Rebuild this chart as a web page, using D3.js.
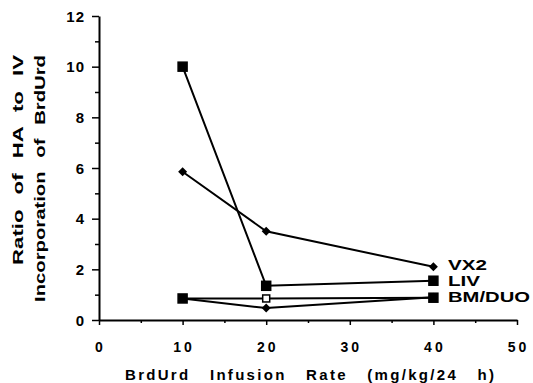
<!doctype html>
<html>
<head>
<style>
  body { margin: 0; background: #fff; }
  text { font-family: "Liberation Sans", Arial, sans-serif; font-weight: bold; fill: #000; }
</style>
<script src="https://d3js.org/d3.v7.min.js"></script>
</head>
<body>
<svg width="533" height="383"></svg>
<script>
// infusion rates (mg/kg/24 h)
var rates = [10, 20, 40];
var vx2 = [5.85, 3.5, 2.1];
var liv = [10.0, 1.35, 1.55];
var bm = [0.85, 0.85, 0.88];
var duo = [0.85, 0.47, 0.9];
var xTicks = [0, 10, 20, 30, 40, 50];
var yTicks = [0, 2, 4, 6, 8, 10, 12];
var names = ["VX2", "LIV", "BM/DUO"];

var svg = d3.select("svg");
var x = d3.scaleLinear().domain([0, 50]).range([99, 517]);
var y = d3.scaleLinear().domain([0, 12]).range([320, 16]);

// axes
var xAxis = svg.append("g").attr("transform", "translate(0,320)")
  .call(d3.axisBottom(x).tickValues(d3.range(0, 51, 5)).tickSizeInner(5).tickSizeOuter(0).tickFormat(""));
xAxis.select(".domain").attr("stroke-width", 2);
xAxis.selectAll(".tick line").attr("stroke-width", 1.5)
  .attr("y2", function(d) { return d % 10 === 0 ? 5 : 3; });

var yAxis = svg.append("g").attr("transform", "translate(99,0)")
  .call(d3.axisLeft(y).tickValues(d3.range(0, 13, 1)).tickSizeInner(5).tickSizeOuter(0).tickFormat(""));
yAxis.select(".domain").attr("stroke-width", 2);
yAxis.selectAll(".tick line").attr("stroke-width", 1.5)
  .attr("x2", function(d) { return d % 2 === 0 ? -7 : -4; });

svg.selectAll(".xlab").data(xTicks).enter().append("text")
  .attr("x", function(d) { return x(d) + 1.5; }).attr("y", 352)
  .attr("text-anchor", "middle").style("font-size", "14px").style("letter-spacing", "3px")
  .text(function(d) { return d; });

svg.selectAll(".ylab").data(yTicks).enter().append("text")
  .attr("x", 85).attr("y", function(d) { return y(d) + 5.5; })
  .attr("text-anchor", "end").style("font-size", "15px").style("letter-spacing", "1px")
  .text(function(d) { return d; });

svg.append("text").attr("x", 125).attr("y", 380)
  .style("font-size", "15px").style("letter-spacing", "2.3px").style("word-spacing", "13px")
  .text("BrdUrd Infusion Rate (mg/kg/24 h)");

svg.append("text").attr("transform", "translate(23,265) rotate(-90)")
  .attr("textLength", 210).attr("lengthAdjust", "spacingAndGlyphs")
  .style("font-size", "15px").style("word-spacing", "6px")
  .text("Ratio of HA to IV");
svg.append("text").attr("transform", "translate(45,302) rotate(-90)")
  .attr("textLength", 247).attr("lengthAdjust", "spacingAndGlyphs")
  .style("font-size", "15px").style("word-spacing", "6px")
  .text("Incorporation of BrdUrd");

// lines
var line = d3.line().x(function(d, i) { return x(rates[i]); }).y(function(d) { return y(d); });
[duo, bm, liv, vx2].forEach(function(s) {
  svg.append("path").datum(s).attr("d", line)
    .attr("fill", "none").attr("stroke", "#000").attr("stroke-width", 2);
});

// markers
function squares(s, openIdx) {
  svg.selectAll(null).data(s).enter().append("rect")
    .attr("x", function(d, i) { return x(rates[i]) - (i === openIdx ? 3.5 : 4.5); })
    .attr("y", function(d, i) { return y(d) - (i === openIdx ? 3.5 : 4.5); })
    .attr("width", function(d, i) { return i === openIdx ? 7 : 9; })
    .attr("height", function(d, i) { return i === openIdx ? 7 : 9; })
    .attr("fill", function(d, i) { return i === openIdx ? "#fff" : "#000"; })
    .attr("stroke", "#000").attr("stroke-width", 1.5);
}
function diamonds(s) {
  svg.selectAll(null).data(s).enter().append("path")
    .attr("transform", function(d, i) { return "translate(" + x(rates[i]) + "," + y(d) + ")"; })
    .attr("d", "M0,-4.5L4.5,0L0,4.5L-4.5,0Z")
    .attr("fill", "#000");
}
diamonds(duo);
diamonds(vx2);
squares(liv, -1);
squares(bm, 1);

// series labels
var labelY = [270, 286, 302];
var labelW = [39, 32, 82];
svg.selectAll(".slab").data(names).enter().append("text")
  .attr("x", 448).attr("y", function(d, i) { return labelY[i]; })
  .attr("textLength", function(d, i) { return labelW[i]; })
  .attr("lengthAdjust", "spacingAndGlyphs")
  .style("font-size", "15px")
  .text(function(d) { return d; });
</script>
</body>
</html>
